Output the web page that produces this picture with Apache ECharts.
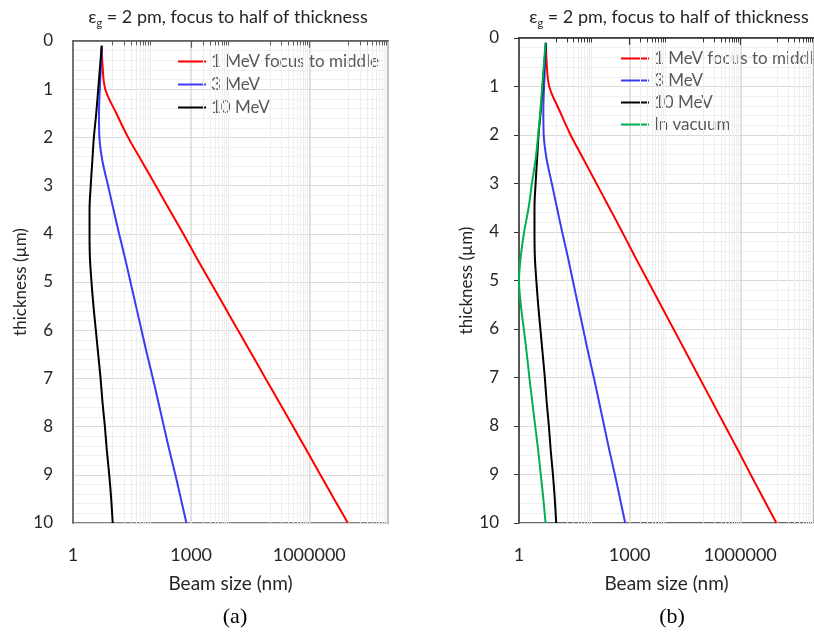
<!DOCTYPE html>
<html><head><meta charset="utf-8">
<script src="https://cdn.jsdelivr.net/npm/echarts@6/dist/echarts.min.js"></script>
<style>html,body{margin:0;padding:0;background:#fff}#c{width:814px;height:633px}</style>
</head><body><div id="c"></div>
<script>
// ---- data (thickness in µm, beam size in nm) ----
const thickness = [0.1, 0.5, 1, 1.5, 2, 2.5, 3, 3.5, 4, 4.5, 5, 5.5, 6, 6.5, 7, 7.5, 8, 8.5, 9, 9.5, 10];
const mev1 = [5.37, 5.62, 6.61, 12.6, 25.1, 56.2, 126, 282, 631, 1380, 3090, 6920, 15500, 34700, 77600, 174000, 389000, 871000, 1910000, 4270000, 9550000];
const mev3 = [5.37, 5.13, 4.79, 4.57, 4.68, 5.62, 7.76, 10.7, 14.8, 20.9, 28.8, 39.8, 55.0, 75.9, 107, 148, 204, 282, 398, 550, 759];
const mev10 = [5.37, 4.90, 4.37, 3.89, 3.39, 3.09, 2.82, 2.63, 2.63, 2.69, 2.95, 3.31, 3.80, 4.37, 5.01, 5.62, 6.46, 7.24, 8.32, 9.33, 10.2];
const vacuum = [5.25, 4.79, 4.27, 3.80, 3.31, 2.82, 2.24, 1.82, 1.38, 1.12, 1.0, 1.12, 1.35, 1.62, 1.91, 2.29, 2.75, 3.31, 3.89, 4.57, 5.25];

const seriesNames = ['1 MeV focus to middle', '3 MeV', '10 MeV', 'In vacuum'];
const xLabelValues = [1, 1000, 1000000];
const majorXGrid = [1000, 1000000];
const minorXGrid = [10, 20, 30, 40, 50, 60, 70, 80, 90,
  2000, 3000, 4000, 5000, 6000, 7000, 8000, 9000,
  100000, 200000, 300000, 400000, 500000, 600000, 700000, 800000, 900000,
  10000000, 20000000, 30000000, 40000000, 50000000, 60000000, 70000000, 80000000, 90000000];
const titleText = '{e|ε}{s|g}{e| = 2 pm, focus to half of thickness}';

// ---- styling ----
const FONT = 'Lato, "Open Sans", sans-serif';
const colors = ['#ff0000', '#3b3bf5', '#000000', '#00b050'];
const pairs = vals => thickness.map((t, i) => [vals[i], t]);

function xAxisFor(gridIndex, borderColor) {
  return {
    type: 'log', logBase: 10, gridIndex, min: 1, max: 100000000, interval: 3,
    position: 'bottom',
    name: 'Beam size (nm)', nameLocation: 'middle', nameGap: 51,
    nameTextStyle: { fontSize: 19, color: '#262626', fontFamily: FONT },
    axisLine: { show: true, lineStyle: { color: borderColor, width: 1.5 } },
    axisTick: { show: false },
    axisLabel: {
      fontSize: 18, color: '#262626', fontFamily: FONT, margin: 23,
      showMaxLabel: false,
      formatter: v => (xLabelValues.some(x => Math.abs(x - v) / x < 1e-6) ? String(Math.round(v)) : '')
    },
    splitLine: { show: true, lineStyle: { color: '#d9d9d9', width: 1.5 } },
    minorTick: { show: false }
  };
}
function yAxisFor(gridIndex, showTicks, borderColor) {
  return {
    type: 'value', gridIndex, min: 0, max: 10, interval: 1, inverse: true,
    name: 'thickness (µm)', nameLocation: 'middle', nameGap: 40,
    nameTextStyle: { fontSize: 17, color: '#262626', fontFamily: FONT },
    axisLine: { show: true, lineStyle: { color: borderColor, width: 1.5 } },
    axisTick: { show: showTicks, length: 5, lineStyle: { color: borderColor } },
    axisLabel: { fontSize: 17, color: '#262626', fontFamily: FONT, margin: 20 },
    splitLine: { show: true, lineStyle: { color: '#d9d9d9', width: 1 } },
    minorTick: { show: false, splitNumber: 5 },
    minorSplitLine: { show: true, lineStyle: { color: '#f0f0f0', width: 1 } }
  };
}
function helperSeries(idx, tickColor) {
  const data = [];
  minorXGrid.forEach(v => data.push({ xAxis: v, lineStyle: { color: '#eeeeee', width: 1, type: 'solid' } }));
  minorXGrid.forEach(v => data.push([{ coord: [v, 0], lineStyle: { color: tickColor, width: 1, type: 'solid' } }, { coord: [v, 0.09] }]));
  majorXGrid.forEach(v => data.push([{ coord: [v, 0], lineStyle: { color: tickColor, width: 1.2, type: 'solid' } }, { coord: [v, 0.14] }]));
  return {
    name: 'grid' + idx, type: 'line', xAxisIndex: idx, yAxisIndex: idx, data: [], silent: true, z: 1,
    markLine: { silent: true, symbol: ['none', 'none'], label: { show: false }, emphasis: { disabled: true }, animation: false, data }
  };
}
function dataSeries(name, vals, color, idx) {
  return {
    name, type: 'line', xAxisIndex: idx, yAxisIndex: idx, data: pairs(vals),
    showSymbol: false, symbol: 'none', smooth: 0.35, z: 10, color,
    lineStyle: { color, width: 2 }, emphasis: { disabled: true }, animation: false
  };
}

const titleRich = {
  e: { fontSize: 18, lineHeight: 23, color: '#262626', fontFamily: FONT, fontWeight: 'normal' },
  s: { fontSize: 11, lineHeight: 11, verticalAlign: 'bottom', color: '#262626', fontFamily: FONT, fontWeight: 'normal' }
};
const legendText = { fontSize: 17, lineHeight: 16, color: '#595959', fontFamily: FONT };

const option = {
  backgroundColor: '#ffffff',
  animation: false,
  title: [
    { text: titleText, left: 223, top: 1, textAlign: 'center', textStyle: { fontWeight: 'normal', rich: titleRich } },
    { text: titleText, left: 664, top: 1, textAlign: 'center', textStyle: { fontWeight: 'normal', rich: titleRich } }
  ],
  grid: [
    { left: 73, top: 41, right: 426, bottom: 110, show: true, borderColor: '#595959', borderWidth: 1.5, backgroundColor: 'transparent' },
    { left: 519, top: 38, right: -7, bottom: 110, show: true, borderColor: '#333333', borderWidth: 1.5, backgroundColor: 'transparent' }
  ],
  xAxis: [xAxisFor(0, '#595959'), xAxisFor(1, '#333333')],
  yAxis: [yAxisFor(0, false, '#595959'), yAxisFor(1, true, '#333333')],
  legend: [
    { data: seriesNames.slice(0, 3), left: 177, top: 53, padding: 0, orient: 'vertical', itemWidth: 28, itemHeight: 14, itemGap: 6,
      itemStyle: { opacity: 0 }, lineStyle: { width: 2 }, textStyle: legendText, selectedMode: false },
    { data: seriesNames.slice(0, 4), left: 620, top: 50, padding: 0, orient: 'vertical', itemWidth: 28, itemHeight: 14, itemGap: 5,
      itemStyle: { opacity: 0 }, lineStyle: { width: 2 }, textStyle: legendText, selectedMode: false }
  ],
  graphic: [
    { type: 'text', x: 235, y: 617, style: { text: '(a)', fontSize: 22, fontFamily: '"Liberation Serif", "DejaVu Serif", serif', fill: '#000', align: 'center', verticalAlign: 'middle' } },
    { type: 'text', x: 672, y: 617, style: { text: '(b)', fontSize: 22, fontFamily: '"Liberation Serif", "DejaVu Serif", serif', fill: '#000', align: 'center', verticalAlign: 'middle' } }
  ],
  series: [
    helperSeries(0, '#595959'),
    helperSeries(1, '#333333'),
    dataSeries(seriesNames[0], mev1, colors[0], 0),
    dataSeries(seriesNames[1], mev3, colors[1], 0),
    dataSeries(seriesNames[2], mev10, colors[2], 0),
    dataSeries(seriesNames[0], mev1, colors[0], 1),
    dataSeries(seriesNames[1], mev3, colors[1], 1),
    dataSeries(seriesNames[2], mev10, colors[2], 1),
    dataSeries(seriesNames[3], vacuum, colors[3], 1)
  ]
};
const chart = echarts.init(document.getElementById('c'), null, { renderer: 'canvas' });
chart.setOption(option);
</script></body></html>
